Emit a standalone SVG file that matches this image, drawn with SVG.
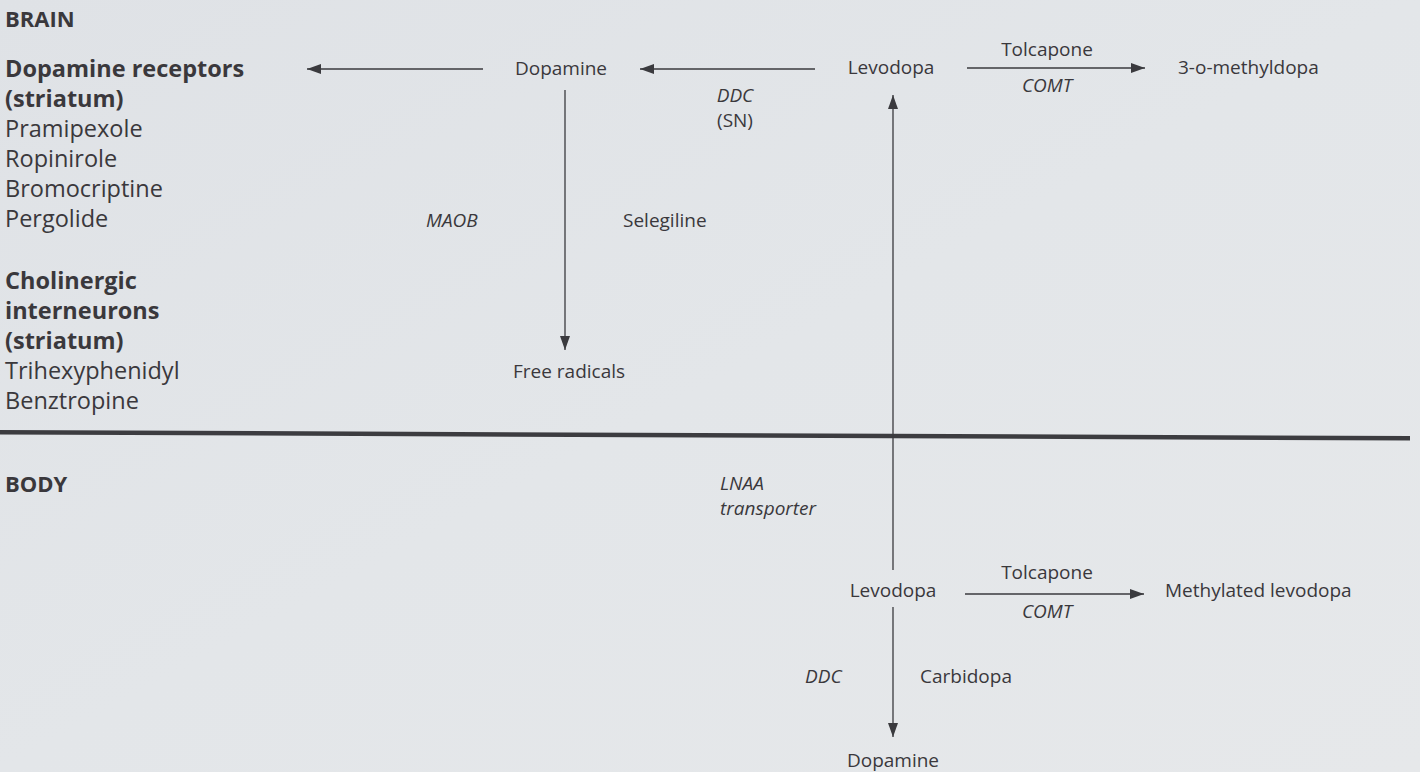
<svg xmlns="http://www.w3.org/2000/svg" width="1420" height="772" viewBox="0 0 1420 772">
  <defs>
    <linearGradient id="bg" x1="0" y1="0" x2="1" y2="1">
      <stop offset="0" stop-color="#dfe2e6"/>
      <stop offset="0.5" stop-color="#e3e6e9"/>
      <stop offset="1" stop-color="#e6e8ea"/>
    </linearGradient>
    <marker id="arr" viewBox="0 0 14 10" refX="14" refY="5" markerWidth="14" markerHeight="10" markerUnits="userSpaceOnUse" orient="auto">
      <path d="M0,0 L14,5 L0,10 Z" fill="#3a3a3e"/>
    </marker>
  </defs>
  <style>
    text { font-family: "Open Sans", "Noto Sans", "Liberation Sans", sans-serif; fill: #3a383c; }
    .lbl { font-size: 19px; }
    .it { font-size: 19px; font-style: italic; }
    .list { font-size: 23.5px; }
    .head { font-size: 23.5px; font-weight: bold; }
    .sec { font-size: 22px; font-weight: bold; }
    .mid { text-anchor: middle; }
    .conn line { stroke: #3a3a3e; stroke-width: 1.3; fill: none; }
  </style>
  <rect width="1420" height="772" fill="url(#bg)"/>

  <!-- divider -->
  <path d="M0,430 L1410,436 L1410,440.5 L0,434.5 Z" fill="#3c3c40"/>

  <g id="brain-label"><text class="sec" x="5" y="27">BRAIN</text></g>
  <g id="body-label"><text class="sec" x="5" y="492">BODY</text></g>

  <g id="dopamine-receptors">
    <text class="head" x="5" y="77">Dopamine receptors</text>
    <text class="head" x="5" y="107">(striatum)</text>
    <text class="list" x="5" y="137">Pramipexole</text>
    <text class="list" x="5" y="167">Ropinirole</text>
    <text class="list" x="5" y="197">Bromocriptine</text>
    <text class="list" x="5" y="227">Pergolide</text>
  </g>

  <g id="cholinergic">
    <text class="head" x="5" y="289">Cholinergic</text>
    <text class="head" x="5" y="319">interneurons</text>
    <text class="head" x="5" y="349">(striatum)</text>
    <text class="list" x="5" y="379">Trihexyphenidyl</text>
    <text class="list" x="5" y="409">Benztropine</text>
  </g>

  <g id="brain-dopamine"><text class="lbl mid" x="561" y="75">Dopamine</text></g>
  <g id="brain-levodopa"><text class="lbl mid" x="891" y="74">Levodopa</text></g>
  <g id="methyldopa"><text class="lbl" x="1178" y="74">3-o-methyldopa</text></g>
  <g id="free-radicals"><text class="lbl" x="513" y="378">Free radicals</text></g>
  <g id="body-levodopa"><text class="lbl mid" x="893" y="597">Levodopa</text></g>
  <g id="methylated-levodopa"><text class="lbl" x="1165" y="597">Methylated levodopa</text></g>
  <g id="body-dopamine"><text class="lbl mid" x="893" y="767">Dopamine</text></g>

  <g id="connectors" class="conn">
    <line x1="483" y1="69" x2="307" y2="69" marker-end="url(#arr)"/>
    <line x1="815" y1="69" x2="640" y2="69" marker-end="url(#arr)"/>
    <line x1="967" y1="68" x2="1145" y2="68" marker-end="url(#arr)"/>
    <line x1="565" y1="90" x2="565" y2="350" marker-end="url(#arr)"/>
    <line x1="893" y1="570" x2="893" y2="95" marker-end="url(#arr)"/>
    <line x1="965" y1="594" x2="1144" y2="594" marker-end="url(#arr)"/>
    <line x1="893" y1="607" x2="893" y2="737" marker-end="url(#arr)"/>
  </g>

  <g id="connector-labels">
    <text class="it mid" x="735" y="102">DDC</text>
    <text class="lbl mid" x="735" y="127">(SN)</text>
    <text class="lbl mid" x="1047" y="56">Tolcapone</text>
    <text class="it mid" x="1047" y="92">COMT</text>
    <text class="it" x="426" y="227">MAOB</text>
    <text class="lbl" x="623" y="227">Selegiline</text>
    <text class="it" x="720" y="490">LNAA</text>
    <text class="it" x="720" y="515">transporter</text>
    <text class="lbl mid" x="1047" y="579">Tolcapone</text>
    <text class="it mid" x="1047" y="618">COMT</text>
    <text class="it" x="805" y="683">DDC</text>
    <text class="lbl" x="920" y="683">Carbidopa</text>
  </g>
</svg>
